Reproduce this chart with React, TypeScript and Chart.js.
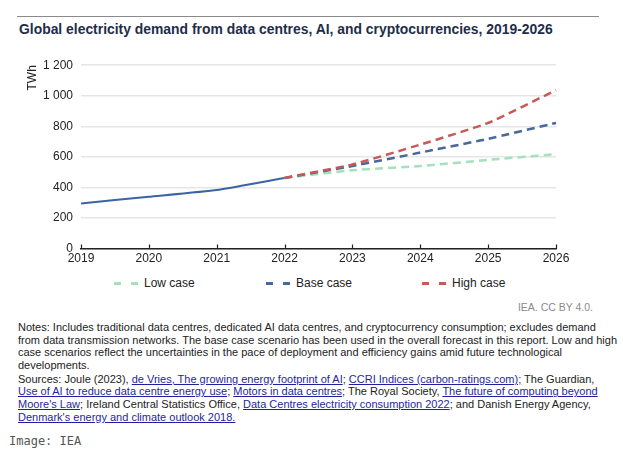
import React, { useEffect, useRef } from "react";
import { Chart, registerables } from "chart.js";

Chart.register(...registerables);

const years = ["2019", "2020", "2021", "2022", "2023", "2024", "2025", "2026"];
const historical = [295, 339, 383, 462, null, null, null, null];
const lowCase = [null, null, null, 462, 512, 540, 580, 617];
const baseCase = [null, null, null, 462, 540, 628, 718, 822];
const highCase = [null, null, null, 462, 550, 680, 822, 1037];
const yTicks = [0, 200, 400, 600, 800, 1000, 1200];

const colors = {
  hist: "#3b64a0",
  low: "#a3e2bd",
  base: "#46689a",
  high: "#c65a55",
};

const fmt = (v: number) =>
  v >= 1000 ? `${Math.floor(v / 1000)} ${String(v % 1000).padStart(3, "0")}` : String(v);

const upTicks = {
  id: "upTicks",
  afterDraw(chart: any) {
    const x = chart.scales.x;
    const ctx = chart.ctx;
    ctx.save();
    ctx.strokeStyle = "#222";
    ctx.lineWidth = 1.2;
    for (let i = 0; i < x.ticks.length; i++) {
      const px = Math.round(x.getPixelForTick(i)) + 0.5;
      ctx.beginPath();
      ctx.moveTo(px, x.top);
      ctx.lineTo(px, x.top - 4);
      ctx.stroke();
    }
    ctx.restore();
  },
};

function ChartBox() {
  const ref = useRef<HTMLCanvasElement>(null);
  useEffect(() => {
    if (!ref.current) return;
    const dash = [8, 5];
    const mk = (label: string, data: any[], color: string, dashed: boolean) => ({
      label,
      data,
      borderColor: color,
      backgroundColor: color,
      borderWidth: dashed ? 2.5 : 2,
      borderDash: dashed ? dash : [],
      pointRadius: 0,
      tension: 0.15,
      fill: false,
      spanGaps: false,
    });
    const chart = new Chart(ref.current, {
      type: "line",
      data: {
        labels: years,
        datasets: [
          mk("High case", highCase, colors.high, true),
          mk("Base case", baseCase, colors.base, true),
          mk("Low case", lowCase, colors.low, true),
          mk("Historical", historical, colors.hist, false),
        ],
      },
      options: {
        animation: false,
        responsive: false,
        devicePixelRatio: 1,
        layout: { padding: { top: 13, right: 67, left: 0, bottom: 0 } },
        plugins: { legend: { display: false }, tooltip: { enabled: false } },
        scales: {
          x: {
            type: "category",
            offset: false,
            grid: { display: false, drawTicks: false },
            border: { display: true, color: "#222", width: 1.5 },
            ticks: {
              color: "#222",
              padding: 3,
              maxRotation: 0,
              autoSkip: false,
              font: { family: "'Liberation Sans', Arial, sans-serif", size: 12 },
            },
            afterFit: (s: any) => {
              s.height = 21.5;
            },
          },
          y: {
            min: 0,
            max: 1200,
            afterBuildTicks: (s: any) => {
              s.ticks = yTicks.map((v) => ({ value: v }));
            },
            grid: { color: "#e6e6e6", lineWidth: 1.5, drawTicks: false },
            border: { display: false },
            ticks: {
              color: "#222",
              padding: 8,
              font: { family: "'Liberation Sans', Arial, sans-serif", size: 12 },
              callback: (v: any) => fmt(Number(v)),
            },
            title: {
              display: true,
              text: "TWh",
              align: "end",
              color: "#222",
              padding: { top: 25, bottom: 0 },
              font: { family: "'Liberation Sans', Arial, sans-serif", size: 12 },
            },
            afterFit: (s: any) => {
              s.width = 81;
            },
          },
        },
      },
      plugins: [upTicks],
    } as any);
    return () => chart.destroy();
  }, []);
  return (
    <canvas
      ref={ref}
      width={623}
      height={220}
      style={{ position: "absolute", left: 0, top: 50, width: 623, height: 220 }}
    />
  );
}

const legendItems = [
  { label: "Low case", color: colors.low, x: 114 },
  { label: "Base case", color: colors.base, x: 266 },
  { label: "High case", color: colors.high, x: 422 },
];

const linkStyle: React.CSSProperties = { color: "#1f1fa0", textDecoration: "underline" };

export default function App() {
  return (
    <div
      style={{
        position: "fixed",
        left: 0,
        top: 0,
        width: 623,
        height: 461,
        background: "#fff",
        fontFamily: "'Liberation Sans', Arial, sans-serif",
        overflow: "hidden",
      }}
    >
      <div
        style={{ position: "absolute", left: 17, top: 16, width: 582, height: 0, borderTop: "1.5px solid #8a8a8a" }}
      />
      <div
        style={{
          position: "absolute",
          left: 19,
          top: 20,
          fontSize: 13.9,
          fontWeight: "bold",
          color: "#1f2d4a",
          whiteSpace: "nowrap",
          lineHeight: "18px",
        }}
      >
        Global electricity demand from data centres, AI, and cryptocurrencies, 2019-2026
      </div>
      <ChartBox />
      {legendItems.map((it) => (
        <div key={it.label} style={{ position: "absolute", left: it.x, top: 275, height: 16, whiteSpace: "nowrap" }}>
          <span
            style={{ position: "absolute", left: 0, top: 7, width: 7, height: 2.5, background: it.color }}
          />
          <span
            style={{ position: "absolute", left: 17, top: 7, width: 7, height: 2.5, background: it.color }}
          />
          <span
            style={{ position: "absolute", left: 30, top: 0, fontSize: 12, lineHeight: "16px", color: "#222" }}
          >
            {it.label}
          </span>
        </div>
      ))}
      <div
        style={{
          position: "absolute",
          right: 30,
          top: 300,
          fontSize: 10.5,
          color: "#8a8a8a",
          lineHeight: "14px",
          whiteSpace: "nowrap",
        }}
      >
        IEA. CC BY 4.0.
      </div>
      <div
        style={{
          position: "absolute",
          left: 18,
          top: 321,
          fontSize: 11,
          lineHeight: "12.6px",
          color: "#222",
          whiteSpace: "nowrap",
        }}
      >
        <div>
          Notes: Includes traditional data centres, dedicated AI data centres, and cryptocurrency consumption; excludes demand
          <br />
          from data transmission networks. The base case scenario has been used in the overall forecast in this report. Low and high
          <br />
          case scenarios reflect the uncertainties in the pace of deployment and efficiency gains amid future technological
          <br />
          developments.
        </div>
        <div style={{ marginTop: 1.5 }}>
          Sources: Joule (2023), <span style={linkStyle}>de Vries, The growing energy footprint of AI</span>;{" "}
          <span style={linkStyle}>CCRI Indices (carbon-ratings.com);</span> The Guardian,
          <br />
          <span style={linkStyle}>Use of AI to reduce data centre energy use</span>;{" "}
          <span style={linkStyle}>Motors in data centres</span>; The Royal Society,{" "}
          <span style={linkStyle}>The future of computing beyond</span>
          <br />
          <span style={linkStyle}>Moore's Law</span>; Ireland Central Statistics Office,{" "}
          <span style={linkStyle}>Data Centres electricity consumption 2022</span>; and Danish Energy Agency,
          <br />
          <span style={linkStyle}>Denmark's energy and climate outlook 2018.</span>
        </div>
      </div>
      <div
        style={{
          position: "absolute",
          left: 9,
          top: 433,
          fontSize: 12,
          lineHeight: "16px",
          color: "#555",
          fontFamily: "'DejaVu Sans Mono', monospace",
          whiteSpace: "nowrap",
        }}
      >
        Image: IEA
      </div>
    </div>
  );
}
